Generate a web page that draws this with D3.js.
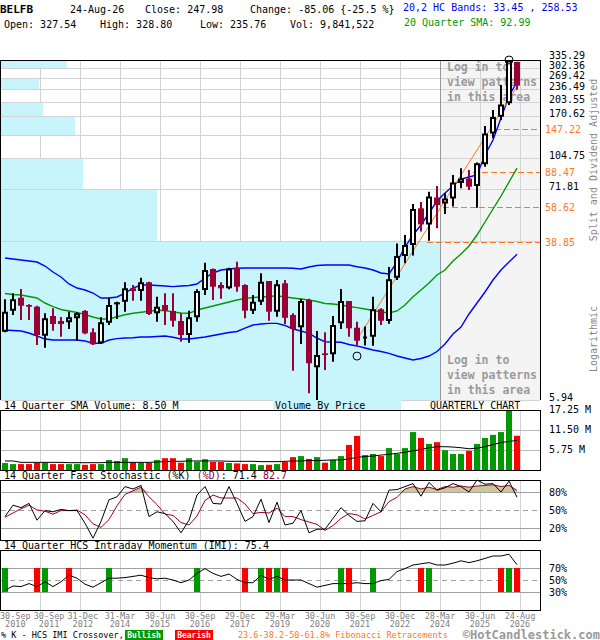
<!DOCTYPE html>
<html>
<head>
<meta charset="utf-8">
<script src="https://cdn.jsdelivr.net/npm/d3@7/dist/d3.min.js"></script>
<style>
html,body{margin:0;padding:0;background:#fff;}
svg{display:block;}
</style>
</head>
<body>
<svg id="chart" width="600" height="640"></svg>
<script>
// ---------------- DATA ----------------
const openP = [13.36,17.14,19.99,18.33,17.97,12.73,16.09,15.16,14.93,15.65,17.08,13.26,11.64,14.86,18.48,19.06,22.34,21.64,24.00,16.61,18.33,17.08,15.16,12.84,15.84,21.90,28.10,23.24,22.34,28.50,23.24,17.14,19.06,24.37,16.94,23.72,16.28,14.07,19.45,8.76,10.33,10.21,14.75,19.22,14.00,12.55,12.59,17.43,15.16,25.35,32.80,37.35,57.70,47.70,65.60,61.20,64.90,78.00,82.10,75.20,97.30,140.4,171.1,200.5,327.54];
const highP = [19.61,21.06,22.16,18.48,18.18,16.61,17.63,15.90,16.94,16.81,17.28,13.90,15.84,19.99,19.06,24.00,23.24,25.35,24.17,20.23,21.06,21.06,16.61,17.14,22.09,30.29,28.30,24.00,28.50,30.60,23.43,20.64,26.70,24.37,24.66,24.66,16.61,19.72,19.72,13.47,13.26,16.09,22.16,19.22,15.03,14.20,20.23,17.63,28.77,38.00,42.05,60.80,62.20,70.30,75.20,69.00,85.70,92.80,90.90,99.50,153.2,185.2,249.2,335.29,328.80];
const lowP = [13.26,16.28,15.34,15.34,11.41,11.05,13.52,12.59,13.79,12.00,12.95,11.41,11.55,14.46,15.52,16.94,19.29,19.29,16.28,15.03,14.46,14.17,11.86,11.72,15.03,20.64,19.45,19.72,22.09,21.46,15.65,16.48,18.33,15.21,15.95,14.63,8.41,11.55,6.43,5.94,8.48,9.36,13.79,12.59,11.41,11.35,11.32,14.46,14.69,24.66,30.07,33.00,43.80,39.30,45.50,53.90,58.90,73.20,71.70,58.10,94.60,132.4,164.5,196.5,235.76];
const closeP = [16.94,19.61,18.18,17.97,12.84,15.65,14.63,14.63,15.84,16.61,13.10,11.50,14.93,18.33,18.93,22.34,21.64,24.00,16.48,17.97,17.14,15.21,12.84,15.84,21.64,27.77,22.77,22.34,28.30,22.77,17.14,19.06,24.17,16.94,23.43,15.76,13.79,19.22,9.18,10.13,10.13,14.46,19.22,13.90,12.00,12.62,17.43,15.21,24.87,32.80,37.35,57.20,47.70,66.40,60.00,64.90,78.50,82.10,74.60,98.40,140.4,170.5,197.8,333.04,247.98];

const upperBand = [32.0,31.63,31.26,30.89,30.53,29.11,27.12,25.56,23.52,22.42,21.90,21.13,19.92,19.92,20.16,21.13,22.42,23.24,23.24,23.10,22.97,22.80,22.97,23.10,23.52,25.25,26.80,27.77,28.10,28.33,28.43,28.43,28.43,28.43,28.43,28.43,28.33,28.10,28.77,29.29,29.46,29.46,29.46,29.46,28.88,28.43,27.77,26.80,26.50,30.50,36.48,42.05,47.35,54.59,62.95,69.20,75.20,81.70,83.70,85.69,108.6,129.8,168.4,218.7,258.53];
const smaBand = [21.01,20.76,20.64,20.28,19.92,18.77,17.97,17.38,17.08,16.78,16.38,15.90,15.52,15.52,15.95,16.34,16.61,16.81,17.02,17.22,17.18,16.87,16.67,16.61,17.28,17.69,18.12,18.55,19.00,19.45,19.80,20.04,20.16,20.28,20.47,20.16,19.92,19.68,19.45,19.11,18.66,18.55,18.33,18.01,17.76,17.48,17.18,16.87,16.67,17.08,18.33,20.23,21.90,23.80,26.17,27.77,30.89,33.56,36.91,42.05,49.07,57.25,66.80,78.86,92.99];
const lowerBand = [13.63,13.55,13.47,13.15,12.69,12.24,12.10,12.10,12.10,12.10,11.96,11.64,11.64,12.10,12.31,12.39,12.43,12.54,12.54,12.61,12.69,12.50,12.24,12.24,12.39,12.54,12.77,12.99,13.23,13.39,13.95,14.46,14.63,14.75,14.75,14.38,13.79,13.47,13.10,12.39,11.86,11.82,11.78,11.48,11.28,11.01,10.75,10.56,10.32,10.01,9.78,9.55,9.72,10.01,10.56,11.55,12.99,14.12,16.48,18.77,21.39,24.66,27.77,30.53,33.45];

const volumeM = [2.0,1.7,1.7,1.7,2.1,2.1,1.7,1.7,1.7,1.7,1.5,1.7,1.7,2.9,2.6,3.4,2.2,2.1,2.1,2.9,3.4,3.4,2.1,3.4,2.4,3.1,2.3,2.3,2.0,1.9,1.7,1.7,1.4,1.5,1.7,2.3,3.7,4.0,3.2,3.7,2.1,2.9,4.0,7.2,9.8,4.3,4.6,4.0,6.3,4.6,6.3,10.9,9.2,7.5,8.0,5.7,4.6,4.6,5.5,7.5,9.2,10.1,10.9,17.25,9.84];
const volumeColor = ["G","G","R","R","R","G","R","R","G","G","R","R","G","G","G","G","R","G","R","G","R","R","R","G","G","G","R","R","G","R","R","G","G","R","G","R","R","G","R","G","R","G","G","R","R","G","G","R","G","G","G","G","R","G","R","G","G","G","R","G","G","G","G","G","R"];
const volumeSMA = [2.6,2.6,2.2,2.2,2.2,2.2,2.2,2.2,2.1,2.1,2.1,2.1,2.1,2.2,2.2,2.2,2.2,2.2,2.2,2.3,2.4,2.5,2.5,2.6,2.6,2.6,2.6,2.6,2.5,2.5,2.5,2.5,2.4,2.4,2.4,2.5,2.6,2.6,2.7,2.7,2.8,2.9,2.9,3.2,3.6,3.9,4.0,4.3,4.5,4.8,5.1,5.5,5.9,6.4,6.7,6.7,6.6,6.4,6.1,6.3,6.7,7.3,7.9,8.2,8.5];
const volumeTicks = [5.75, 11.50, 17.25];

const stochK = [39,58,54,61,33,49,47,51,49,49,28,3,31,67,72,89,85,91,39,47,44,31,12,33,75,89,61,60,89,61,31,39,68,29,63,25,28,49,12,18,18,36,54,41,31,32,61,47,83,84,89,94,73,96,83,87,94,89,80,100,93,94,80,98,71.4];
const stochD = [38,45,52,58,50,48,43,49,49,50,42,27,21,34,57,76,82,88,72,59,43,41,29,25,40,66,75,70,70,70,60,44,46,45,53,39,39,34,30,26,16,24,36,44,42,35,41,47,64,71,85,89,85,88,84,89,88,90,88,90,91,92,89,91,82.7];
const stochLevels = [20, 50, 80];

const imiValues = [33,40,39,44,39,47,39,47,58,53,43,38,45.5,53,53,54,56,58,54,52,53,50,45.5,50,61,69,61,56,60,51,45.5,45.5,58,51,56,50,50,50,44,38,41,44,44,44,45.5,44,44,49,51,64,69,75,77,79,75,75,78,82,79,82,86,90,90,93,75.4];
const imiLevels = [30, 50, 70];
const imiBullish = [0,5,13,24,32,34,42,46,53,63];
const imiBearish = [4,8,18,30,33,35,43,52,62,64];

const priceGrid = [5.94,38.88,71.81,104.75,137.68,170.62,203.55,236.49,269.42,302.36,335.29];
const priceLabels = [335.29,302.36,269.42,236.49,203.55,170.62,104.75,71.81,5.94];
const volumeByPrice = [93.5,27.0,14.2,0,12.8,7.3,0,6.6,0,11.4];

const fibLevels = [147.22, 88.47, 58.62, 38.85];
const fibStartIndex = [61.25, 58.5, 54.75, 52.75];
const trendIndex = [44, 64];
const trendPrice = [12.17, 244];
const markIndex = [63, 44];
const markPrice = [335.29, 10.0];

const xLabelIndex = [0,4,9,14,19,24,29,34,39,44,49,54,59,64];
const xLabelDay = ["30-Sep","30-Sep","31-Dec","31-Mar","30-Jun","30-Sep","29-Dec","29-Mar","30-Jun","30-Sep","30-Dec","28-Mar","30-Jun","24-Aug"];
const xLabelYear = ["2010","2011","2012","2014","2015","2016","2017","2019","2020","2021","2022","2024","2025","2026"];

// ---------------- DRAW ----------------
const svg = d3.select('#chart');
const MONO = "'DejaVu Sans Mono','Liberation Mono',monospace";
const MAROON = '#990033', GREEN = '#009900', RED = '#ff0000', BLUE = '#0000ff',
      ORANGE = '#ff7722', CYAN = '#c8f5fc', GRID = '#d3d3d3', LOGIN = '#f4f4f4', LEVEL = '#a0a0a0';

const x = d3.scaleLinear().domain([0, 64]).range([5, 517]);
const y = d3.scaleLog().domain([5.94, 335.29]).range([400, 60]);
const yv = d3.scaleLinear().domain([0, 17.25]).range([470, 410]);
const ys = d3.scaleLinear().domain([0, 100]).range([540, 480]);
const yi = d3.scaleLinear().domain([0, 100]).range([610, 550]);
const vbpX = d3.scaleLinear().domain([0, 93.5]).range([0, 540]);
const gridX = xLabelIndex.slice(1).map(i => Math.round(x(i)) + 3);

function T(g, x0, y0, s, o = {}) {
  const t = g.append('text').attr('x', x0).attr('y', y0)
    .attr('font-family', o.family || MONO).attr('font-size', o.size || 10)
    .attr('fill', o.fill || '#000').text(s);
  if (o.bold) t.attr('font-weight', 'bold');
  if (o.anchor) t.attr('text-anchor', o.anchor);
  return t;
}

// Header
const hd = svg.append('g');
T(hd, 0, 13, 'BELFB', {bold: true, size: 11});
T(hd, 70, 12.5, '24-Aug-26');
T(hd, 145, 12.5, 'Close: 247.98');
T(hd, 250, 12.5, 'Change: -85.06 {-25.5 %}');
T(hd, 403, 11, '20,2 HC Bands: 33.45 , 258.53', {fill: BLUE});
T(hd, 4, 28, 'Open: 327.54');
T(hd, 100, 28, 'High: 328.80');
T(hd, 200, 28, 'Low: 235.76');
T(hd, 290, 28, 'Vol: 9,841,522');
T(hd, 404, 26, '20 Quarter SMA: 92.99', {fill: GREEN});

// Main panel
const defs = svg.append('defs');
defs.append('clipPath').attr('id', 'clipCyan').append('rect').attr('x', 0).attr('y', 60).attr('width', 440).attr('height', 340);
defs.append('clipPath').attr('id', 'clipGray').append('rect').attr('x', 440).attr('y', 60).attr('width', 101).attr('height', 340);
defs.append('clipPath').attr('id', 'clipMain').append('rect').attr('x', 0).attr('y', 50).attr('width', 541).attr('height', 350);

const main = svg.append('g');
main.append('rect').attr('x', 440).attr('y', 60).attr('width', 100).attr('height', 340).attr('fill', LOGIN);
priceGrid.forEach(v => {
  const yy = Math.floor(y(v)) + 0.5;
  main.append('line').attr('x1', 1).attr('x2', 540).attr('y1', yy).attr('y2', yy).attr('stroke', GRID);
});
gridX.forEach(gx => {
  main.append('line').attr('x1', gx + 0.5).attr('x2', gx + 0.5).attr('y1', 60).attr('y2', 400).attr('stroke', GRID);
});
// Volume by price
const vbpG = main.append('g');
volumeByPrice.forEach((v, b) => {
  if (v <= 0) return;
  const yTop = Math.floor(y(priceGrid[b + 1])) + 1;
  const yBot = b === 0 ? 400 : Math.floor(y(priceGrid[b]));
  vbpG.append('rect').attr('x', 1).attr('y', yTop).attr('width', vbpX(v)).attr('height', yBot - yTop)
    .attr('fill', CYAN).attr('clip-path', 'url(#clipCyan)');
  vbpG.append('rect').attr('x', 1).attr('y', yTop).attr('width', vbpX(v)).attr('height', yBot - yTop)
    .attr('fill', LOGIN).attr('clip-path', 'url(#clipGray)');
});
main.append('line').attr('x1', 440.5).attr('x2', 440.5).attr('y1', 60).attr('y2', 400).attr('stroke', '#999');
// login text
[[71, 'Log in to'], [86, 'view patterns'], [101, 'in this area'], [364, 'Log in to'], [379, 'view patterns'], [394, 'in this area']]
  .forEach(([yy, s]) => T(main, 447, yy, s, {bold: true, size: 11.5, fill: '#9a9a9a'}));

// fib levels
fibLevels.forEach((v, k) => {
  const yy = Math.round(y(v)) + 0.5;
  main.append('line').attr('x1', x(fibStartIndex[k])).attr('x2', 540).attr('y1', yy).attr('y2', yy)
    .attr('stroke', ORANGE).attr('stroke-dasharray', '6,3');
  T(main, 545, yy + 3.5, v.toFixed(2), {fill: ORANGE});
});

// bands
const bandLine = d3.line().x((d, i) => x(i)).y(d => y(d));
const bandG = main.append('g').attr('clip-path', 'url(#clipMain)');
bandG.append('path').attr('d', bandLine(upperBand)).attr('fill', 'none').attr('stroke', BLUE).attr('stroke-width', 1.4);
bandG.append('path').attr('d', bandLine(lowerBand)).attr('fill', 'none').attr('stroke', BLUE).attr('stroke-width', 1.4);
bandG.append('path').attr('d', bandLine(smaBand)).attr('fill', 'none').attr('stroke', GREEN).attr('stroke-width', 1.4);
// trend line
bandG.append('line').attr('x1', x(trendIndex[0])).attr('y1', y(trendPrice[0]))
  .attr('x2', x(trendIndex[1])).attr('y2', y(trendPrice[1])).attr('stroke', ORANGE).attr('stroke-width', 1);

// candles
const cg = main.append('g');
openP.forEach((o, i) => {
  const c = closeP[i], h = highP[i], l = lowP[i];
  const cx = Math.round(x(i));
  const up = c >= o;
  const col = up ? '#000' : MAROON;
  cg.append('line').attr('x1', cx).attr('x2', cx).attr('y1', y(h)).attr('y2', y(l))
    .attr('stroke', col).attr('stroke-width', 2);
  const top = y(Math.max(o, c)), bot = y(Math.min(o, c));
  if (up) {
    const hh = Math.max(bot - top, 2);
    cg.append('path').attr('d', `M${cx - 2},${top + 1}h4v${hh - 2}h-4Z`)
      .attr('fill', '#fff').attr('stroke', '#000').attr('stroke-width', 2);
  } else {
    cg.append('rect').attr('x', cx - 3).attr('y', top).attr('width', 6).attr('height', Math.max(bot - top, 1.5))
      .attr('fill', MAROON);
  }
});
// marks
markIndex.forEach((mi, k) => {
  main.append('circle').attr('cx', x(mi)).attr('cy', y(markPrice[k])).attr('r', 4)
    .attr('fill', 'none').attr('stroke', '#000').attr('stroke-width', 1);
});
// borders
main.append('line').attr('x1', 0).attr('x2', 541).attr('y1', 60.5).attr('y2', 60.5).attr('stroke', '#000');
main.append('line').attr('x1', 0.5).attr('x2', 0.5).attr('y1', 60).attr('y2', 400).attr('stroke', '#000');
main.append('line').attr('x1', 540.5).attr('x2', 540.5).attr('y1', 60).attr('y2', 400).attr('stroke', '#000');
// price labels
priceLabels.forEach((v, k) => T(main, 549, Math.floor(y(v)) + (k === 0 ? -1.5 : 0.5), v.toFixed(2)));
// vertical side text
svg.append('text').attr('transform', 'translate(597,160) rotate(-90)').attr('text-anchor', 'middle')
  .attr('font-family', MONO).attr('font-size', 10).attr('fill', '#888').text('Split and Dividend Adjusted');
svg.append('text').attr('transform', 'translate(597,339) rotate(-90)').attr('text-anchor', 'middle')
  .attr('font-family', MONO).attr('font-size', 10).attr('fill', '#888').text('Logarithmic');

// ---------- Volume panel ----------
const vp = svg.append('g');
vp.append('rect').attr('x', 273).attr('y', 400).attr('width', 128).attr('height', 10).attr('fill', CYAN);
T(vp, 4, 409, '14 Quarter SMA Volume: 8.50 M');
T(vp, 275, 409, 'Volume By Price');
T(vp, 430, 409, 'QUARTERLY CHART');
gridX.forEach(gx => vp.append('line').attr('x1', gx + 0.5).attr('x2', gx + 0.5).attr('y1', 410).attr('y2', 470).attr('stroke', GRID));
volumeTicks.slice(0, 2).forEach(v => {
  const yy = Math.round(yv(v)) + 0.5;
  vp.append('line').attr('x1', 1).attr('x2', 540).attr('y1', yy).attr('y2', yy).attr('stroke', '#bbb');
});
volumeM.forEach((v, i) => {
  vp.append('rect').attr('x', Math.round(x(i)) - 3).attr('y', yv(v)).attr('width', 6).attr('height', 470 - yv(v))
    .attr('fill', volumeColor[i] === 'G' ? GREEN : RED);
});
vp.append('path').attr('d', d3.line().x((d, i) => x(i)).y(d => yv(d))(volumeSMA)).attr('fill', 'none').attr('stroke', '#000').attr('stroke-width', 1);
vp.append('rect').attr('x', 0.5).attr('y', 410.5).attr('width', 540).attr('height', 60).attr('fill', 'none').attr('stroke', '#000');
volumeTicks.forEach(v => T(vp, 549, Math.round(yv(v)) + 3, v.toFixed(2) + ' M'));

// ---------- Stochastic panel ----------
const sp = svg.append('g');
const st = T(sp, 4, 479, '');
st.append('tspan').text('14 Quarter Fast Stochastic (%K) ');
st.append('tspan').attr('fill', MAROON).text('(%D)');
st.append('tspan').text(': 71.4  ');
st.append('tspan').attr('fill', MAROON).text('82.7');
gridX.forEach(gx => sp.append('line').attr('x1', gx + 0.5).attr('x2', gx + 0.5).attr('y1', 480).attr('y2', 540).attr('stroke', GRID));
sp.append('path').attr('d', d3.area().x((d, i) => x(i)).y0(ys(80)).y1(d => ys(Math.max(d, 80)))(stochD)).attr('fill', '#cdc89a');
stochLevels.forEach(v => {
  const yy = Math.round(ys(v)) + 0.5;
  sp.append('line').attr('x1', 1).attr('x2', 540).attr('y1', yy).attr('y2', yy).attr('stroke', LEVEL)
    .attr('stroke-dasharray', v === 50 ? '5,4' : null);
  T(sp, 549, yy + 3.5, v + '%');
});
const sLine = d3.line().x((d, i) => x(i)).y(d => ys(d));
sp.append('path').attr('d', sLine(stochD)).attr('fill', 'none').attr('stroke', MAROON).attr('stroke-width', 1);
sp.append('path').attr('d', sLine(stochK)).attr('fill', 'none').attr('stroke', '#000').attr('stroke-width', 1);
sp.append('rect').attr('x', 0.5).attr('y', 480.5).attr('width', 540).attr('height', 60).attr('fill', 'none').attr('stroke', '#000');

// ---------- IMI panel ----------
const ip = svg.append('g');
T(ip, 4, 549, '14 Quarter HCS Intraday Momentum (IMI): 75.4');
gridX.forEach(gx => ip.append('line').attr('x1', gx + 0.5).attr('x2', gx + 0.5).attr('y1', 550).attr('y2', 610).attr('stroke', GRID));
imiLevels.forEach(v => {
  const yy = Math.round(yi(v)) + 0.5;
  ip.append('line').attr('x1', 1).attr('x2', 540).attr('y1', yy).attr('y2', yy).attr('stroke', LEVEL)
    .attr('stroke-dasharray', v === 50 ? '5,4' : null);
  T(ip, 549, yy + 3.5, v + '%');
});
imiBullish.forEach(i => ip.append('rect').attr('x', Math.round(x(i)) - 3).attr('y', yi(70)).attr('width', 6).attr('height', yi(30) - yi(70)).attr('fill', GREEN));
imiBearish.forEach(i => ip.append('rect').attr('x', Math.round(x(i)) - 3).attr('y', yi(70)).attr('width', 6).attr('height', yi(30) - yi(70)).attr('fill', RED));
ip.append('path').attr('d', d3.line().x((d, i) => x(i)).y(d => yi(d))(imiValues)).attr('fill', 'none').attr('stroke', '#000').attr('stroke-width', 1);
ip.append('rect').attr('x', 0.5).attr('y', 550.5).attr('width', 540).attr('height', 60).attr('fill', 'none').attr('stroke', '#000');

// ---------- X axis labels ----------
const xl = svg.append('g');
let prevEnd = -10;
xLabelIndex.forEach((idx, k) => {
  const t1 = T(xl, 0, 618.5, xLabelDay[k], {size: 8.5, fill: '#808080'});
  const t2 = T(xl, 0, 627, xLabelYear[k], {size: 8.5, fill: '#808080'});
  const w = t1.node().getComputedTextLength();
  const w2 = t2.node().getComputedTextLength();
  const center = Math.round(x(idx)) + 3;
  let start = Math.max(0, center - w / 2, prevEnd + 3);
  t1.attr('x', start);
  t2.attr('x', start + (w - w2) / 2);
  prevEnd = start + w;
});

// ---------- Legend ----------
const lg = svg.append('g');
T(lg, 1, 638, '% K - HCS IMI Crossover,', {size: 8.5});
lg.append('rect').attr('x', 125).attr('y', 630).attr('width', 38).attr('height', 10).attr('fill', GREEN);
T(lg, 144, 638, 'Bullish', {size: 8, fill: '#fff', bold: true, anchor: 'middle'});
lg.append('rect').attr('x', 175).attr('y', 630).attr('width', 38).attr('height', 10).attr('fill', RED);
T(lg, 194, 638, 'Bearish', {size: 8, fill: '#fff', bold: true, anchor: 'middle'});
T(lg, 238, 638, '23.6-38.2-50-61.8% Fibonacci Retracements', {size: 8.5, fill: ORANGE});
T(lg, 600, 638.5, '\u00A9HotCandlestick.com', {size: 12, fill: '#999', bold: true, anchor: 'end'});
</script>
</body>
</html>
